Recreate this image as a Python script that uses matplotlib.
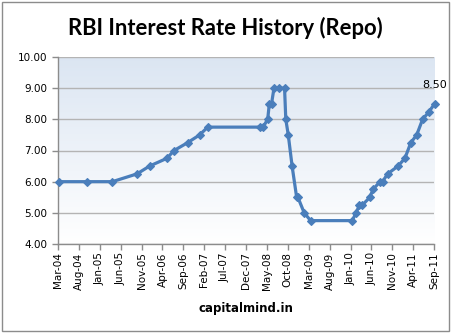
import matplotlib
matplotlib.use("Agg")
import matplotlib.pyplot as plt
from matplotlib.patches import Rectangle
import numpy as np
import pandas as pd

title = "RBI Interest Rate History (Repo)"
xlabel = "capitalmind.in"

dates = ["2004-03-10", "2004-10-01", "2005-04-01", "2005-09-28", "2005-12-28",
         "2006-05-04", "2006-06-25", "2006-10-01", "2006-12-28", "2007-02-25",
         "2008-03-15", "2008-04-03", "2008-05-07", "2008-05-19", "2008-06-04",
         "2008-06-22", "2008-07-28", "2008-09-07", "2008-09-16", "2008-10-04",
         "2008-11-01", "2008-12-04", "2008-12-13", "2009-01-28", "2009-03-16",
         "2010-01-13", "2010-02-10", "2010-03-07", "2010-03-28", "2010-05-22",
         "2010-06-13", "2010-08-04", "2010-08-22", "2010-09-28", "2010-12-13",
         "2011-02-01", "2011-03-16", "2011-04-28", "2011-06-10", "2011-07-28",
         "2011-09-05"]
repo = [6.00, 6.00, 6.00, 6.25, 6.50,
        6.75, 7.00, 7.25, 7.50, 7.75,
        7.75, 7.75, 8.00, 8.50, 8.50,
        9.00, 9.00, 9.00, 8.00, 7.50,
        6.50, 5.50, 5.50, 5.00, 4.75,
        4.75, 5.00, 5.25, 5.25, 5.50,
        5.75, 6.00, 6.00, 6.25, 6.50,
        6.75, 7.25, 7.50, 8.00, 8.25,
        8.50]
yticks = [4.0, 5.0, 6.0, 7.0, 8.0, 9.0, 10.0]

x = pd.to_datetime(dates)

W, H = 451, 333
fig = plt.figure(figsize=(W / 100, H / 100), dpi=100)
fig.patch.set_facecolor("white")
fig.patches.append(Rectangle((1.5 / W, 2.5 / H), (W - 4) / W, (H - 4.5) / H,
                             transform=fig.transFigure, fill=False,
                             edgecolor="#8c8c8c", linewidth=1.0))

left, right, top, bottom = 58, 434, 57, 244
ax = fig.add_axes([left / W, 1 - bottom / H, (right - left) / W, (bottom - top) / H])

# gradient background
grad = np.linspace(0, 1, 256).reshape(-1, 1)
c_top = np.array([0.86, 0.90, 0.95])
c_bot = np.array([1.0, 1.0, 1.0])
img = c_bot + (c_top - c_bot) * grad[..., None]
ax.imshow(img, extent=[0, 1, 0, 1], transform=ax.transAxes, aspect="auto",
          origin="lower", zorder=0)

ax.set_ylim(4, 10)
xmin, xmax = pd.Timestamp("2004-03-01"), pd.Timestamp("2011-09-01")
ax.set_xlim(xmin, xmax)
ax.set_yticks(yticks)
ax.yaxis.set_major_formatter(matplotlib.ticker.FormatStrFormatter("%.2f"))
ax.grid(axis="y", color="#b4b4b4", linewidth=1.0, zorder=1)
ax.set_axisbelow(True)

tick_dates = pd.date_range("2004-03-01", "2011-09-01", freq="5MS")
ax.set_xticks(tick_dates)
ax.set_xticklabels([d.strftime("%b-%y") for d in tick_dates], rotation=90)

ax.plot(x, repo, color="#4a7ebb", linewidth=2.3, marker="D", markersize=4.0,
        markeredgewidth=0.8, markeredgecolor="#4a7ebb", zorder=3, clip_on=False)
ax.annotate(f"{repo[-1]:.2f}", (x[-1], repo[-1]), xytext=(0, 10),
            textcoords="offset points", ha="center", va="bottom", fontsize=8,
            color="black", annotation_clip=False)

for s in ["top", "right"]:
    ax.spines[s].set_visible(False)
for s in ["left", "bottom"]:
    ax.spines[s].set_color("#8c8c8c")
    ax.spines[s].set_linewidth(1.0)
ax.tick_params(axis="both", direction="out", length=4, color="#8c8c8c",
               labelsize=7.5, labelcolor="black", width=1.0)
ax.tick_params(axis="x", pad=2)

ax.set_xlabel(xlabel, fontsize=8.5, fontweight="bold", labelpad=8)
fig.text(225 / W, 1 - 28 / H, title, ha="center", va="center",
         fontsize=15.8, fontweight="bold", family="Lato")

fig.savefig("out.png", dpi=100)
